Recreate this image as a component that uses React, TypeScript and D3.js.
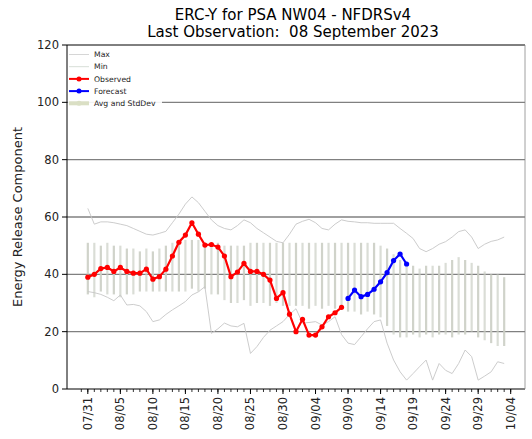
import React from 'react';
import * as d3 from 'd3';

// days since 07/31/2023, one value per day
const observed = [39, 40, 42, 42.4, 41, 42.4, 41, 40.4, 40.4, 41.8, 38.3, 39.2, 41.8, 46.4, 51.2, 53.7, 58, 54, 50.2, 50.4, 49.5, 46.4, 39.2, 40.8, 43.8, 41, 41, 40, 38, 31.6, 33.6, 26.1, 20, 24.3, 18.8, 18.8, 21.7, 25.2, 26.6, 28.5];
const forecast = [31.6, 34.5, 32.2, 33, 34.8, 37.4, 40.6, 44.8, 47.1, 43.6];
const maxLine = [63, 57.5, 58.3, 58.3, 58, 57.5, 57, 56, 55, 54, 53.7, 54.3, 55, 58, 61, 64.5, 67, 65, 62, 59, 57, 56, 55.5, 57, 59, 58, 56, 54.5, 53, 51.5, 51, 54, 57.5, 58.5, 59.2, 58, 56, 55.5, 57.5, 59, 58.5, 58.3, 58, 58, 57.8, 57.8, 57.8, 57.8, 56, 54.3, 52.5, 49, 47.9, 49, 50.5, 51.4, 53, 54.9, 55.5, 53, 49, 50.5, 51.5, 52, 53];
const minLine = [34, 33.6, 33, 32, 30.8, 32.8, 29.3, 29.5, 29, 27, 23.5, 24.1, 26, 27.6, 29, 30.5, 32.8, 33.9, 35.7, 19.4, 21, 23, 22, 21.7, 22.9, 12.4, 14.8, 18, 20.5, 22, 23.5, 26, 28, 23, 23.2, 23.5, 22.3, 23.5, 25.2, 19, 16, 15.5, 18.2, 21, 23.5, 24.1, 16, 10.1, 6, 3.1, 5.4, 7.8, 10.1, 3.1, 8.9, 6.5, 5.4, 8.9, 13.6, 11.3, 3.1, 4.5, 6, 9.5, 8.9];
const avg = [42, 41.5, 42, 42, 41.5, 41, 41, 41, 41, 41.5, 41, 41.5, 42, 42.5, 42.5, 43, 43.5, 43, 43, 42, 42, 40.5, 40, 40, 40.5, 40, 40.5, 40.5, 40, 40.5, 40, 40, 40, 40, 39.5, 40, 39.5, 40, 39.5, 39.5, 39, 39, 38.5, 39, 38.5, 37.5, 35.5, 33, 31.5, 30.5, 31, 30, 31, 30.5, 31, 31.5, 31.5, 32.5, 32, 32, 30.5, 29, 28, 27.5, 27];
const sd = [9, 9.5, 8, 9, 8.5, 9, 8, 8, 7, 7.5, 7, 7.5, 8, 8.5, 8.5, 9, 8.5, 9, 8, 9, 9, 9.5, 10, 10, 9.5, 11, 10.5, 10.5, 11, 10.5, 11, 11, 11, 11, 11.5, 11, 11.5, 11, 11.5, 11.5, 12, 12, 12.5, 12, 12.5, 12.5, 13.5, 14, 13.5, 12.5, 12, 12, 12, 12.5, 12, 12.5, 13.5, 13.5, 13, 12, 12.5, 12, 12, 12.5, 12];
const tickLabels = ['07/31', '08/05', '08/10', '08/15', '08/20', '08/25', '08/30', '09/04', '09/09', '09/14', '09/19', '09/24', '09/29', '10/04'];
const yTicks = [0, 20, 40, 60, 80, 100, 120];

const DAY = 86400000;
const start = Date.UTC(2023, 6, 31);
const dayDate = (i: number) => new Date(start + i * DAY);

const width = 532;
const height = 439;
const margin = { top: 45, right: 7, bottom: 50, left: 67 };
const font = 'DejaVu Sans, sans-serif';

const App = () => {
  const x = d3.scaleUtc()
    .domain([new Date(start - 3.2 * DAY), new Date(start + 67.2 * DAY)])
    .range([margin.left, width - margin.right]);
  const y = d3.scaleLinear().domain([0, 120]).range([height - margin.bottom, margin.top]);

  const line = d3.line<number>()
    .x((d, i) => x(dayDate(i)))
    .y(d => y(d));
  const fLine = d3.line<number>()
    .x((d, i) => x(dayDate(i + observed.length)))
    .y(d => y(d));

  const x0 = margin.left, x1 = width - margin.right;
  const y0 = height - margin.bottom, y1 = margin.top;
  const minorDays = d3.range(-1, 66);

  const legend = [
    { label: 'Max', color: '#cccccc', w: 0.8, marker: false },
    { label: 'Min', color: '#ccd4cc', w: 0.8, marker: false },
    { label: 'Observed', color: '#ff0000', w: 2, marker: true },
    { label: 'Forecast', color: '#0000ff', w: 2, marker: true },
    { label: 'Avg and StdDev', color: '#dadfc4', w: 4, marker: true },
  ];

  return (
    <svg width={width} height={height} style={{ position: 'absolute', left: 0, top: 0, background: '#fff' }}>
      {/* title */}
      <text x={293} y={20} textAnchor="middle" fontFamily={font} fontSize={15}>ERC-Y for PSA NW04 - NFDRSv4</text>
      <text x={293} y={37} textAnchor="middle" fontFamily={font} fontSize={15} style={{ whiteSpace: 'pre' }}>Last Observation:  08 September 2023</text>

      {/* grid */}
      {yTicks.filter(t => t > 0 && t < 120).map(t =>
        <line key={t} x1={x0} x2={x1} y1={y(t)} y2={y(t)} stroke="#808080" strokeWidth={1.3} />)}

      {/* std dev bars */}
      {avg.map((a, i) =>
        <rect key={i} x={x(dayDate(i)) - 1.1} width={2.2}
          y={y(a + sd[i])} height={y(a - sd[i]) - y(a + sd[i])}
          fill="#cbcec4" opacity={i % 2 ? 0.7 : 0.9} />)}

      {/* max / min */}
      <path d={line(maxLine) || ''} fill="none" stroke="#c6c6c6" strokeWidth={0.9} />
      <path d={line(minLine) || ''} fill="none" stroke="#c6c6c6" strokeWidth={0.9} />

      {/* observed */}
      <path d={line(observed) || ''} fill="none" stroke="#ff0000" strokeWidth={2.2} />
      {observed.map((v, i) => <circle key={i} cx={x(dayDate(i))} cy={y(v)} r={2.6} fill="#ff0000" />)}

      {/* forecast */}
      <path d={fLine(forecast) || ''} fill="none" stroke="#0000ff" strokeWidth={2.2} />
      {forecast.map((v, i) => <circle key={i} cx={x(dayDate(i + observed.length))} cy={y(v)} r={2.6} fill="#0000ff" />)}

      {/* legend */}
      <rect x={x0 + 1} y={y1 + 1} width={94} height={63} fill="#fff" opacity={0.9} />
      {legend.map((l, i) => {
        const ly = 54.5 + i * 12.2;
        return (
          <g key={l.label}>
            <line x1={69} x2={89} y1={ly} y2={ly} stroke={l.color} strokeWidth={l.w} />
            {l.marker && <circle cx={79} cy={ly} r={2.5} fill={l.color} />}
            <text x={94} y={ly} dy="0.35em" fontFamily={font} fontSize={7.7} fill="#222">{l.label}</text>
          </g>
        );
      })}

      {/* frame */}
      <line x1={x0} x2={x1} y1={y1} y2={y1} stroke="#000" strokeWidth={1} />
      <line x1={x0} x2={x1} y1={y0} y2={y0} stroke="#000" strokeWidth={1} />
      <line x1={x0} x2={x0} y1={y1} y2={y0} stroke="#000" strokeWidth={1} />
      <line x1={x1} x2={x1} y1={y1} y2={y0} stroke="#888" strokeWidth={0.8} />

      {/* y axis */}
      {yTicks.map(t => (
        <g key={t}>
          <line x1={x0 - 5} x2={x0} y1={y(t)} y2={y(t)} stroke="#000" />
          <text x={x0 - 8} y={y(t)} dy="0.35em" textAnchor="end" fontFamily={font} fontSize={11.5} fill="#222">{t}</text>
        </g>
      ))}
      <text transform={`translate(22, ${(y0 + y1) / 2}) rotate(-90)`} textAnchor="middle"
        fontFamily={font} fontSize={13} fill="#222">Energy Release Component</text>

      {/* x axis */}
      {minorDays.map(d =>
        <line key={d} x1={x(dayDate(d))} x2={x(dayDate(d))} y1={y0} y2={y0 + 3} stroke="#000" strokeWidth={0.8} />)}
      {tickLabels.map((t, i) => {
        const xp = x(dayDate(i * 5));
        return (
          <g key={t}>
            <line x1={xp} x2={xp} y1={y0} y2={y0 + 5} stroke="#000" />
            <text transform={`translate(${xp}, ${y0 + 8}) rotate(-90)`} dy="0.35em" textAnchor="end"
              fontFamily={font} fontSize={11.5} fill="#222">{t}</text>
          </g>
        );
      })}
    </svg>
  );
};

export default App;
